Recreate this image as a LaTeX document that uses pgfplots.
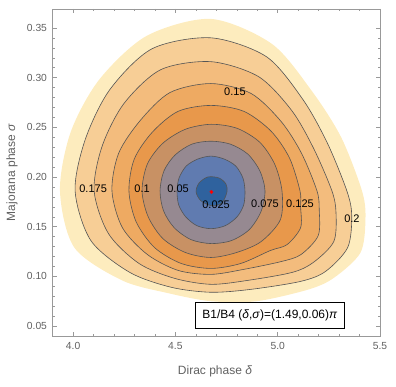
\documentclass[border=0pt]{standalone}
\usepackage{fontspec}
\setmainfont{Liberation Sans}
\usepackage{pgfplots}
\pgfplotsset{compat=1.18}
\definecolor{c1}{HTML}{2F629E}
\definecolor{c2}{HTML}{607BB0}
\definecolor{c3}{HTML}{968991}
\definecolor{c4}{HTML}{C89164}
\definecolor{c5}{HTML}{E8984B}
\definecolor{c6}{HTML}{EEAA62}
\definecolor{c7}{HTML}{F3BC7D}
\definecolor{c8}{HTML}{F7CE96}
\definecolor{c9}{HTML}{FDECBE}
\definecolor{cline}{HTML}{555555}
\begin{document}
\begin{tikzpicture}
\begin{axis}[
  width=328pt, height=327pt, scale only axis,
  xmin=3.897, xmax=5.5, ymin=0.04, ymax=0.369,
  xtick={4.0,4.5,5.0,5.5},
  ytick={0.05,0.10,0.15,0.20,0.25,0.30,0.35},
  minor x tick num=4, minor y tick num=4,
  tick align=inside, major tick length=4.5pt, minor tick length=2.5pt,
  axis line style={black!40},
  tick style={black!40, line width=0.4pt},
  /pgf/number format/assume math mode=true,
  x tick label style={/pgf/number format/fixed, /pgf/number format/fixed zerofill,
    /pgf/number format/precision=1, yshift=-3pt},
  y tick label style={/pgf/number format/fixed, /pgf/number format/fixed zerofill,
    /pgf/number format/precision=2, xshift=-1.5pt},
  tick label style={font=\fontsize{10.3}{12}\selectfont, text=black!62},
  xlabel={Dirac phase \textit{δ}},
  ylabel={Majorana phase \textit{σ}},
  label style={font=\fontsize{12}{14}\selectfont, text=black!62},
  xlabel style={at={(axis description cs:0.497,-0.107)}, anchor=center},
  ylabel style={at={(axis description cs:-0.122,0.5)}, anchor=center},
  contour/.style={draw=cline, line width=0.6pt, smooth cycle},
]
% outer band (edge of the plotted region, no line)
\addplot[fill=c9, draw=none, smooth cycle] coordinates {
(5.412,0.186) (5.310,0.240) (5.165,0.287) (4.971,0.334) (4.674,0.359) (4.360,0.342)
(4.128,0.298) (3.988,0.245) (3.936,0.186) (4.006,0.129) (4.239,0.096) (4.467,0.083)
(4.674,0.075) (4.897,0.075) (5.154,0.087) (5.278,0.099) (5.405,0.124) (5.429,0.158)};
% 0.2
\addplot[fill=c8, contour] coordinates {
(5.338,0.186) (5.243,0.234) (5.123,0.278) (4.945,0.321) (4.674,0.340) (4.386,0.329)
(4.180,0.288) (4.060,0.238) (4.010,0.186) (4.087,0.136) (4.277,0.104) (4.480,0.089)
(4.674,0.084) (4.872,0.087) (5.113,0.095) (5.234,0.105) (5.342,0.129) (5.362,0.161)};
% 0.175
\addplot[fill=c7, contour] coordinates {
(5.265,0.186) (5.175,0.229) (5.068,0.267) (4.906,0.301) (4.674,0.316) (4.429,0.308)
(4.249,0.274) (4.142,0.231) (4.103,0.186) (4.173,0.143) (4.322,0.113) (4.496,0.098)
(4.674,0.092) (4.855,0.096) (5.071,0.104) (5.174,0.114) (5.274,0.135) (5.285,0.164)};
% 0.15
\addplot[fill=c6, contour] coordinates {
(5.192,0.186) (5.116,0.224) (5.016,0.256) (4.870,0.284) (4.674,0.294) (4.474,0.285)
(4.329,0.257) (4.223,0.224) (4.190,0.186) (4.241,0.149) (4.363,0.122) (4.513,0.106)
(4.674,0.102) (4.833,0.107) (5.019,0.115) (5.114,0.122) (5.198,0.141) (5.203,0.167)};
% 0.125
\addplot[fill=c5, contour] coordinates {
(5.109,0.186) (5.058,0.219) (4.968,0.246) (4.835,0.266) (4.674,0.272) (4.513,0.266)
(4.387,0.245) (4.299,0.218) (4.273,0.186) (4.308,0.155) (4.398,0.129) (4.528,0.113)
(4.674,0.108) (4.820,0.113) (4.964,0.126) (5.046,0.132) (5.112,0.149) (5.112,0.170)};
% 0.1
\addplot[fill=c4, contour] coordinates {
(5.021,0.186) (4.985,0.213) (4.912,0.235) (4.801,0.249) (4.674,0.253) (4.549,0.248)
(4.439,0.234) (4.363,0.213) (4.337,0.186) (4.367,0.160) (4.439,0.138) (4.549,0.124)
(4.674,0.119) (4.799,0.124) (4.919,0.135) (5.013,0.157)};
% 0.075
\addplot[fill=c3, contour] coordinates {
(4.938,0.186) (4.913,0.206) (4.854,0.223) (4.769,0.233) (4.674,0.236) (4.580,0.233)
(4.498,0.222) (4.444,0.206) (4.425,0.186) (4.442,0.166) (4.494,0.149) (4.576,0.137)
(4.674,0.133) (4.774,0.136) (4.861,0.147) (4.918,0.165)};
% 0.05
\addplot[fill=c2, contour] coordinates {
(4.840,0.186) (4.830,0.199) (4.795,0.211) (4.739,0.218) (4.674,0.221) (4.609,0.218)
(4.553,0.211) (4.518,0.199) (4.508,0.186) (4.516,0.172) (4.550,0.160) (4.605,0.151)
(4.674,0.148) (4.744,0.151) (4.802,0.160) (4.834,0.172)};
% 0.025
\addplot[fill=c1, contour] coordinates {
(4.752,0.185) (4.728,0.174) (4.679,0.171) (4.625,0.176) (4.601,0.185) (4.616,0.194)
(4.659,0.200) (4.713,0.199) (4.747,0.193)};
% best fit
\addplot[only marks, mark=*, mark size=1.7pt, color=red] coordinates {(4.676,0.185)};
\begin{scope}[font=\fontsize{11}{13}\selectfont, every node/.style={inner sep=0pt}]
\node at (axis cs:4.098,0.188) {0.175};
\node at (axis cs:4.337,0.188) {0.1};
\node at (axis cs:4.513,0.188) {0.05};
\node at (axis cs:4.699,0.172) {0.025};
\node at (axis cs:4.938,0.173) {0.075};
\node at (axis cs:5.109,0.173) {0.125};
\node at (axis cs:5.363,0.158) {0.2};
\node at (axis cs:4.791,0.286) {0.15};
\end{scope}
\node[draw=black, line width=0.8pt, fill=white, inner xsep=7pt, minimum height=26pt,
  font=\fontsize{12}{14}\selectfont] at (axis cs:4.962,0.061)
  {B1/B4 (\textit{δ},\textit{σ})=(1.49,0.06)\textit{π}};
\end{axis}
\pgfresetboundingbox
\path[use as bounding box] (-52pt,-50pt) rectangle (344pt,336pt);
\end{tikzpicture}
\end{document}
